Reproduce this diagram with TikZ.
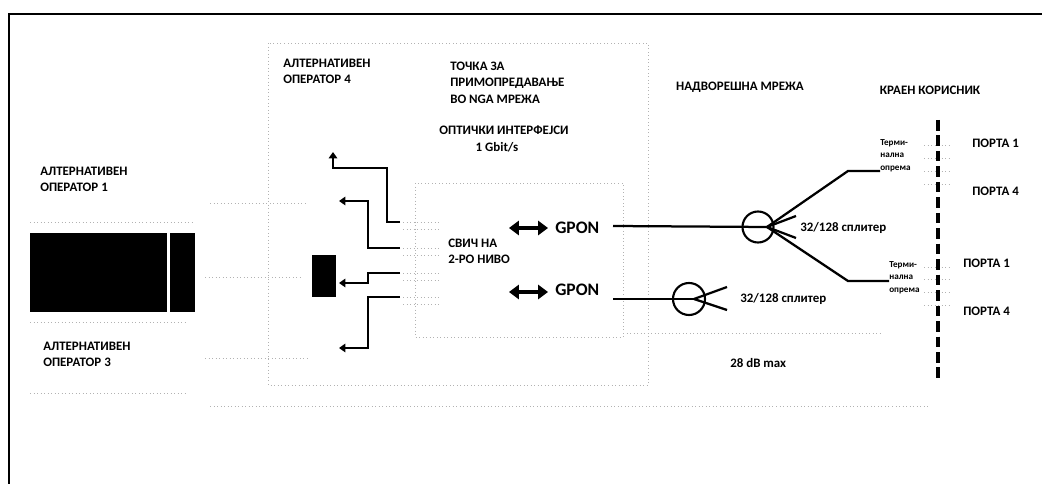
\documentclass[tikz,border=0pt]{standalone}
\usepackage{fontspec}
\setmainfont{Carlito}
\usetikzlibrary{arrows.meta}
\begin{document}
\begin{tikzpicture}[x=0.025cm,y=-0.025cm,
  faint/.style={draw=black!30,dotted,line width=0.5pt},
  lbl/.style={font=\bfseries\fontsize{9.2}{11.5}\selectfont,inner sep=0pt,align=left},
  small/.style={font=\bfseries\fontsize{6.5}{9}\selectfont,inner sep=0pt,align=left},
  link/.style={line width=2pt,-{Triangle[width=6pt,length=4.5pt]}},
  dbl/.style={line width=3pt,{Triangle[width=10pt,length=7pt]}-{Triangle[width=10pt,length=7pt]}},
  fiber/.style={line width=1.6pt},
  blk/.style={fill=black,draw=none,inner sep=0pt}]
\useasboundingbox (0,0) rectangle (1042,484);
% border (top and left only)
\draw[line width=1.8pt] (9,484) -- (9,14) -- (1042,14);
% faint dotted frames
\draw[faint] (268,43) rectangle (648,385);
\draw[faint] (415,183) rectangle (623,337);
\draw[faint] (623,333) -- (880,333);
\draw[faint] (210,406) -- (930,406);
\draw[faint] (30,222) -- (195,222);
\draw[faint] (210,203) -- (307,203);
\draw[faint] (205,277) -- (300,277);
\draw[faint] (30,322) -- (185,322);
\draw[faint] (205,358) -- (310,358);
\draw[faint] (30,393) -- (185,393);
\foreach \yy in {222,229,248,255,273,280,297,304} \draw[faint] (403,\yy) -- (440,\yy);
\foreach \yy in {145,158,171,184,267,279,292,305} \draw[faint] (924,\yy) -- (952,\yy);
% black blocks
\node[blk,minimum width=137*0.025cm,minimum height=79*0.025cm,anchor=north west] (op1box) at (30,233) {};
\node[blk,minimum width=25*0.025cm,minimum height=79*0.025cm,anchor=north west] (op1sm) at (170,233) {};
\node[blk,minimum width=24*0.025cm,minimum height=42*0.025cm,anchor=north west] (swbox) at (312,255) {};
% texts
\node[lbl,anchor=north west] (op4) at (283,59) {АЛТЕРНАТИВЕН\\ОПЕРАТОР 4};
\node[lbl,anchor=north west] (tocka) at (450,62) {ТОЧКА ЗА\\ПРИМОПРЕДАВАЊЕ\\ВО NGA МРЕЖА};
\node[lbl] (opt) at (504,130) {ОПТИЧКИ ИНТЕРФЕЈСИ};
\node[lbl] (gbit) at (497,147) {1 Gbit/s};
\node[lbl] (nadv) at (740,87) {НАДВОРЕШНА МРЕЖА};
\node[lbl] (kraen) at (930,90) {КРАЕН КОРИСНИК};
\node[lbl,anchor=north west] (op1) at (40,167) {АЛТЕРНАТИВЕН\\ОПЕРАТОР 1};
\node[lbl,anchor=north west] (op3) at (43,342) {АЛТЕРНАТИВЕН\\ОПЕРАТОР 3};
\node[lbl,anchor=west] (svich) at (448,251) {СВИЧ НА\\2-РО НИВО};
\node[font=\bfseries\fontsize{12.5}{14}\selectfont,inner sep=0pt,anchor=west] (gpon1) at (555,228) {GPON};
\node[font=\bfseries\fontsize{12.5}{14}\selectfont,inner sep=0pt,anchor=west] (gpon2) at (555,290) {GPON};
\node[lbl,anchor=west] (spl1lbl) at (800,228) {32/128 сплитер};
\node[lbl,anchor=west] (spl2lbl) at (740,299) {32/128 сплитер};
\node[lbl,anchor=west] (db) at (730,363) {28 dB max};
\node[small,anchor=north west] (term1) at (880,139) {Терми-\\нална\\опрема};
\node[small,anchor=north west] (term2) at (889,261) {Терми-\\нална\\опрема};
\node[lbl,anchor=west] (pa1) at (972,143) {ПОРТА 1};
\node[lbl,anchor=west] (pa4) at (972,191) {ПОРТА 4};
\node[lbl,anchor=west] (pb1) at (963,263) {ПОРТА 1};
\node[lbl,anchor=west] (pb4) at (963,311) {ПОРТА 4};
% switch ports
\coordinate (p1) at (400,222);
\coordinate (p2) at (400,248);
\coordinate (p3) at (400,273);
\coordinate (p4) at (400,297);
\coordinate (t1) at (333,152);
\coordinate (t2) at (339,201);
\coordinate (t3) at (339,283);
\coordinate (t4) at (339,348);
\draw[link] (p1) -- (387,222) -- (387,168) -- (333,168) -- (t1);
\draw[link] (p2) -- (368,248) -- (368,201) -- (t2);
\draw[link] (p3) -- (368,273) -- (368,283) -- (t3);
\draw[link] (p4) -- (368,297) -- (368,348) -- (t4);
% double arrows
\coordinate (d1a) at (509,228); \coordinate (d1b) at (548,228);
\coordinate (d2a) at (509,292); \coordinate (d2b) at (548,292);
\draw[dbl] (d1a) -- (d1b);
\draw[dbl] (d2a) -- (d2b);
% splitter 1
\node[circle,draw,line width=1.5pt,minimum size=31*0.025cm,inner sep=0pt] (s1) at (758,227) {};
\coordinate (s1a) at (767,227);
\coordinate (f1) at (613,226);
\draw[fiber] (f1) -- (s1a);
\draw[fiber] (s1a) -- (848,171) -- (term1.west |- 0,171);
\draw[fiber] (s1a) -- (796,216);
\draw[fiber] (s1a) -- (796,238);
\draw[fiber] (s1a) -- (848,281) -- (term2.west |- 0,281);
% splitter 2
\node[circle,draw,line width=1.5pt,minimum size=32*0.025cm,inner sep=0pt] (s2) at (689,299) {};
\coordinate (s2a) at (694,299);
\coordinate (f2) at (613,299);
\draw[fiber] (f2) -- (s2a);
\draw[fiber] (s2a) -- (727,287);
\draw[fiber] (s2a) -- (727,310);
% dashed customer boundary
\coordinate (bt) at (938,120);
\coordinate (bb) at (938,382);
\draw[line width=2.2pt,dash pattern=on 7.5pt off 3.5pt] (bt) -- (bb);
\end{tikzpicture}
\end{document}
